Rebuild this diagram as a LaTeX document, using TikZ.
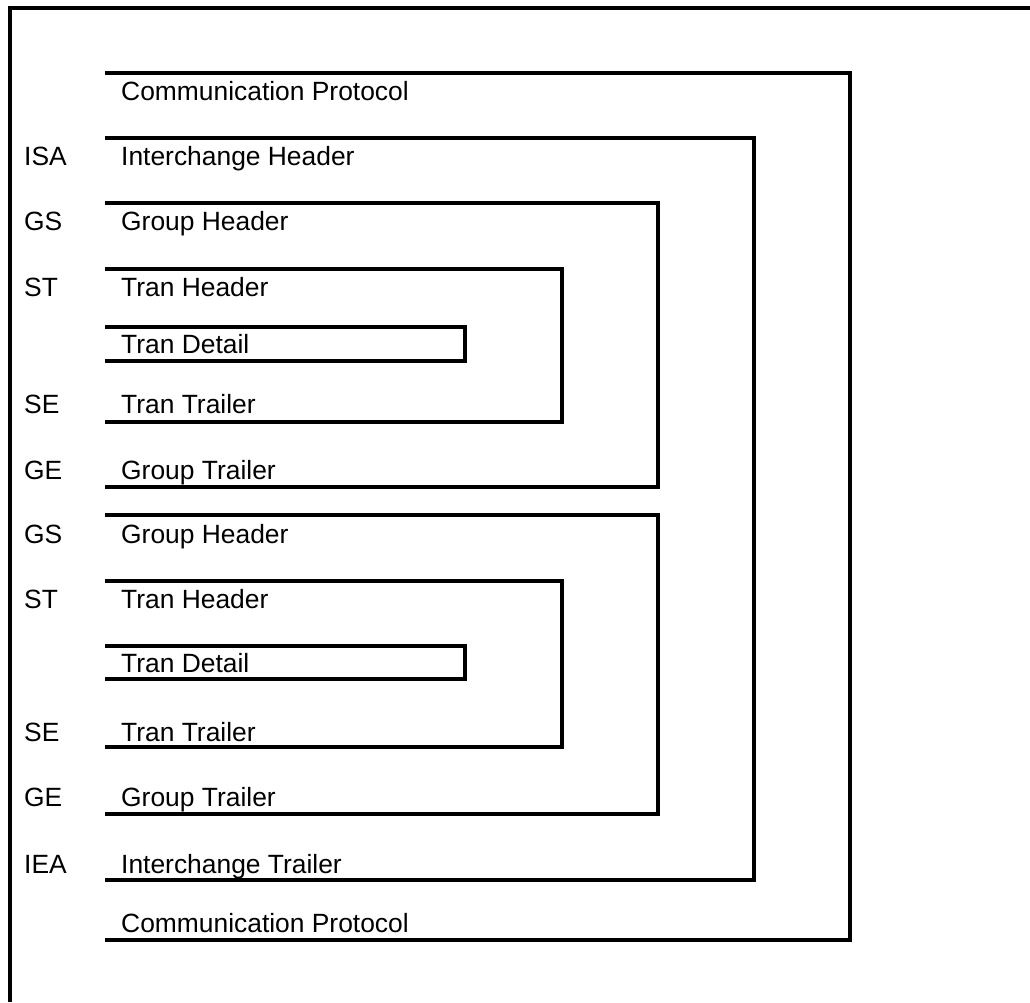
\documentclass[tikz,border=0pt]{standalone}
\usepackage{fontspec}
\setmainfont{Liberation Sans}
\begin{document}
\begin{tikzpicture}[x=1pt,y=-1pt,
  frame/.style={line width=4pt,line join=miter,line cap=butt},
  txt/.style={anchor=base west,inner sep=0pt,font=\fontsize{26.4}{30}\selectfont}]
\useasboundingbox[fill=white] (0,0) rectangle (1030,1002);
% outer frame (top and left only)
\draw[frame] (10,1002) -- (10,8) -- (1030,8);
% brackets
\draw[frame] (105,73) -- (850,73) -- (850,940) -- (105,940);
\draw[frame] (105,138) -- (754,138) -- (754,880) -- (105,880);
\draw[frame] (105,203) -- (658,203) -- (658,487) -- (105,487);
\draw[frame] (105,269) -- (562,269) -- (562,422) -- (105,422);
\draw[frame] (105,327) -- (465,327) -- (465,361) -- (105,361);
\draw[frame] (105,515) -- (658,515) -- (658,814) -- (105,814);
\draw[frame] (105,581) -- (562,581) -- (562,747) -- (105,747);
\draw[frame] (105,646) -- (465,646) -- (465,679) -- (105,679);
% texts
\node[txt] (cp1) at (121,100) {Communication Protocol};
\node[txt] (isa) at (24,165) {ISA};
\node[txt] (ih) at (121,165) {Interchange Header};
\node[txt] (gs1) at (24,230) {GS};
\node[txt] (gh1) at (121,230) {Group Header};
\node[txt] (st1) at (24,296) {ST};
\node[txt] (th1) at (121,296) {Tran Header};
\node[txt] (td1) at (121,353) {Tran Detail};
\node[txt] (se1) at (24,413) {SE};
\node[txt] (tt1) at (121,413) {Tran Trailer};
\node[txt] (ge1) at (24,479) {GE};
\node[txt] (gt1) at (121,479) {Group Trailer};
\node[txt] (gs2) at (24,543) {GS};
\node[txt] (gh2) at (121,543) {Group Header};
\node[txt] (st2) at (24,608) {ST};
\node[txt] (th2) at (121,608) {Tran Header};
\node[txt] (td2) at (121,672) {Tran Detail};
\node[txt] (se2) at (24,741) {SE};
\node[txt] (tt2) at (121,741) {Tran Trailer};
\node[txt] (ge2) at (24,806) {GE};
\node[txt] (gt2) at (121,806) {Group Trailer};
\node[txt] (iea) at (24,873) {IEA};
\node[txt] (it) at (121,873) {Interchange Trailer};
\node[txt] (cp2) at (121,932) {Communication Protocol};
\end{tikzpicture}
\end{document}
